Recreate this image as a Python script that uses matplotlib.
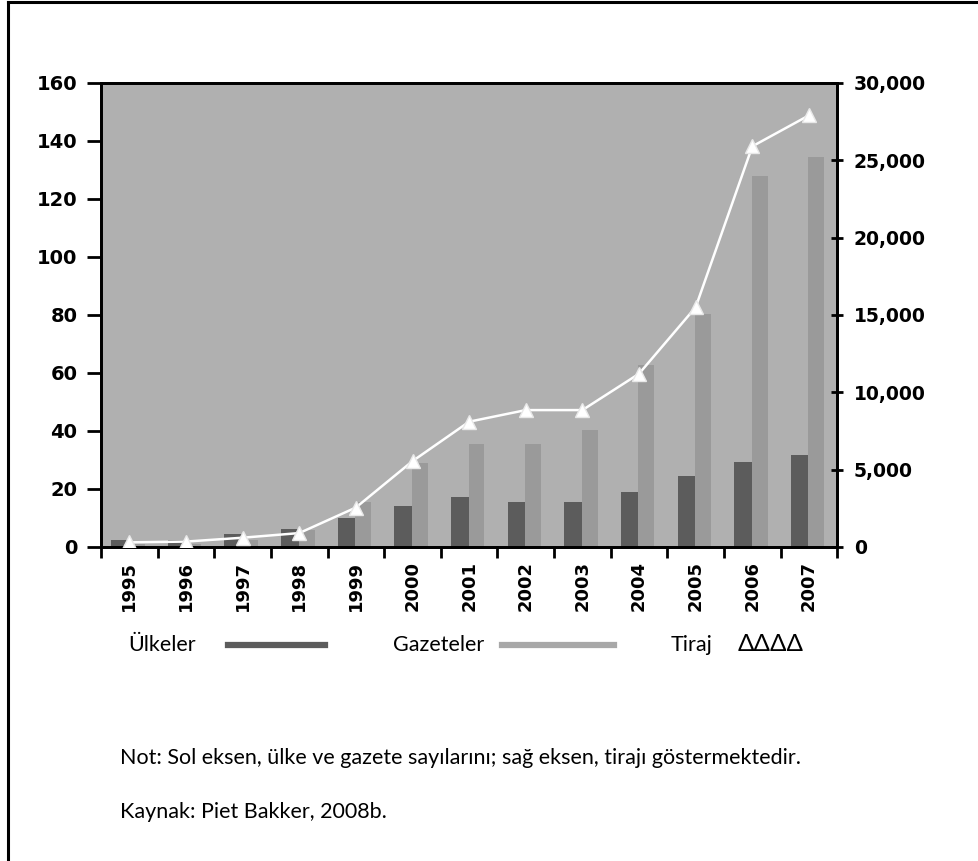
import numpy as np
import matplotlib
matplotlib.use("Agg")
from matplotlib import pyplot as plt
from matplotlib.lines import Line2D

# data
years = ['1995', '1996', '1997', '1998', '1999', '2000', '2001',
         '2002', '2003', '2004', '2005', '2006', '2007']
ulkeler = [2.3, 2.3, 4.4, 6.3, 10, 14, 17.2, 15.5, 15.5, 18.8, 24.4, 29.2, 31.6]
gazeteler = [1, 1, 2.5, 6, 15.5, 28.9, 35.4, 35.4, 40.2, 62.6, 80.5, 128, 134.5]
tiraj = [300, 350, 600, 900, 2550, 5550, 8100, 8850, 8850, 11200, 15500, 25900, 27900]

legend_labels = ['Ülkeler', 'Gazeteler', 'Tiraj', 'ΔΔΔΔ']
note = 'Not: Sol eksen, ülke ve gazete sayılarını; sağ eksen, tirajı göstermektedir.'
source = 'Kaynak: Piet Bakker, 2008b.'

dark = '#5c5c5c'
light = '#9a9a9a'
txt_font = ['Lato', 'Open Sans', 'DejaVu Sans']

fig = plt.figure(figsize=(9.79, 8.61), dpi=100)
ax = fig.add_axes([0.1032, 0.3647, 0.752, 0.539])
ax.set_facecolor('#b0b0b0')

x = np.arange(len(years))
ax.bar(x - 0.32, ulkeler, width=0.31, align='edge', color=dark, zorder=2)
ax.bar(x - 0.01, gazeteler, width=0.28, align='edge', color=light, zorder=2)
ax.set_xlim(-0.5, len(years) - 0.5)
ax.set_ylim(0, 160)
ax.set_yticks(range(0, 161, 20))

ax.set_xticks(x)
ax.set_xticklabels(years, rotation=90, fontsize=13, fontweight='bold', family='DejaVu Sans')
ax.tick_params(axis='x', length=0, pad=10)
ax.set_xticks(np.arange(-0.5, len(years), 1.0), minor=True)
ax.tick_params(axis='x', which='minor', length=8, width=2, direction='out')
ax.tick_params(axis='y', length=10, width=2, direction='out', pad=7)
for lab in ax.get_yticklabels():
    lab.set_fontsize(14)
    lab.set_fontweight('bold')

ax2 = ax.twinx()
ax2.plot(x, tiraj, color='white', lw=1.8, marker='^', markersize=10,
         markerfacecolor='white', markeredgecolor='#e8e8e8', zorder=5)
ax2.set_ylim(0, 30000)
ax2.set_yticks(range(0, 30001, 5000))
ax2.set_yticklabels([f'{v:,}' for v in range(0, 30001, 5000)], fontsize=13.5, fontweight='bold')
ax2.tick_params(axis='y', length=8, width=2, direction='inout', pad=8)

for a in (ax, ax2):
    for s in a.spines.values():
        s.set_linewidth(2)
        s.set_color('black')

# legend row drawn by hand, like in the original
ly = 0.2509
fs = 15.5
fig.text(0.1307, ly, legend_labels[0], fontsize=fs, family=txt_font, va='center')
fig.add_artist(Line2D([0.2329, 0.332], [ly, ly], color=dark, lw=4.5, transform=fig.transFigure))
fig.text(0.4014, ly, legend_labels[1], fontsize=fs, family=txt_font, va='center')
fig.add_artist(Line2D([0.5128, 0.6272], [ly, ly], color='#a8a8a8', lw=4.5, transform=fig.transFigure))
fig.text(0.6854, ly, legend_labels[2], fontsize=fs, family=txt_font, va='center')
fig.text(0.7538, ly, legend_labels[3], fontsize=fs + 2, family=txt_font, va='center')

fig.text(0.1226, 0.1196, note, fontsize=fs, family=txt_font, va='center')
fig.text(0.1226, 0.0569, source, fontsize=fs, family=txt_font, va='center')

# outer frame (only left and top visible in the reference)
fig.add_artist(Line2D([0.0082, 0.0082], [0, 0.9977], color='black', lw=2.2, transform=fig.transFigure))
fig.add_artist(Line2D([0.0082, 1.0], [0.9977, 0.9977], color='black', lw=2.2, transform=fig.transFigure))

fig.savefig('out.png', dpi=100, facecolor='white')
